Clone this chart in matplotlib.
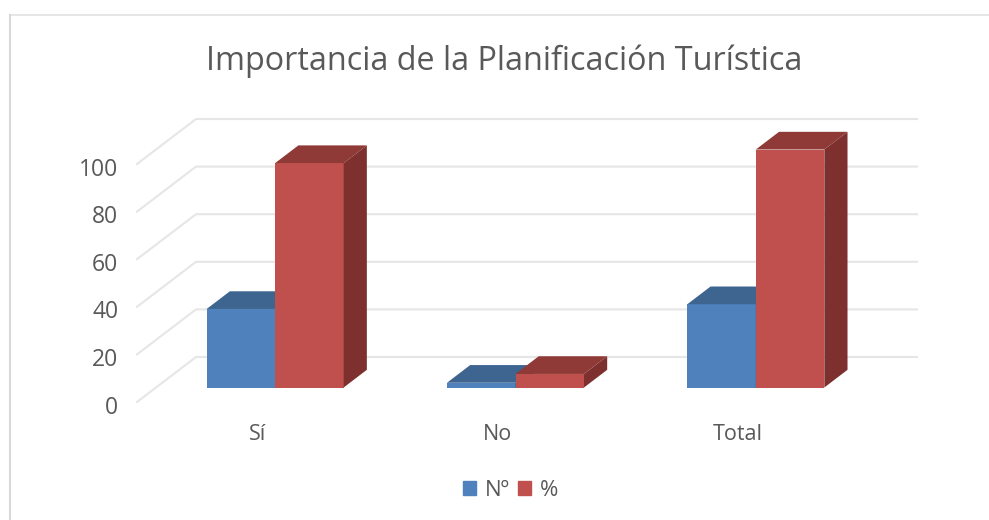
import matplotlib
matplotlib.use('Agg')
import matplotlib.pyplot as plt
from matplotlib.lines import Line2D
from matplotlib.patches import Patch
from matplotlib.transforms import ScaledTranslation

plt.rcParams['font.family'] = ['Open Sans', 'DejaVu Sans']

# data
categories = ['Sí', 'No', 'Total']
numero = [33, 2, 35]
porcentaje = [94.3, 5.7, 100]
y_ticks = [0, 20, 40, 60, 80, 100]

W, H = 989, 520
TEXT = '#595959'
GRID = '#E6E6E6'

# fake 3D: depth of the floor in data units, bars sit between f0 and f1
DEPTH_X = 59 / 240.3
DEPTH_Y = 45 / 2.38
F0, F1 = 0.322, 0.715
BAR_W = 0.285
NUDGE_X = -1 / 240.3

fig = plt.figure(figsize=(W / 100, H / 100), dpi=100)
ax = fig.add_axes([137 / W, 1 - 402 / H, 721 / W, 238 / H])
ax.set_xlim(-0.5, 2.5)
ax.set_ylim(0, 100)
for s in ax.spines.values():
    s.set_visible(False)

# walls
for v in y_ticks:
    ax.plot([-0.5, -0.5 + DEPTH_X, 2.5 + DEPTH_X],
            [v, v + DEPTH_Y, v + DEPTH_Y],
            color=GRID, lw=1.5, clip_on=False, zorder=1)


def bar3d(pos, val, front, top, side):
    x0 = pos + F0 * DEPTH_X + NUDGE_X
    y0 = F0 * DEPTH_Y
    ddx = (F1 - F0) * DEPTH_X
    ddy = (F1 - F0) * DEPTH_Y
    x1 = x0 + BAR_W
    y1 = y0 + val
    ax.bar(x0, val, BAR_W, bottom=y0, align='edge', color=front, clip_on=False, zorder=3)
    ax.fill([x0, x1, x1 + ddx, x0 + ddx], [y1, y1, y1 + ddy, y1 + ddy],
            color=top, lw=0, clip_on=False, zorder=3)
    ax.fill([x1, x1 + ddx, x1 + ddx, x1], [y0, y0 + ddy, y1 + ddy, y1],
            color=side, lw=0, clip_on=False, zorder=3)


for i in range(len(categories)):
    bar3d(i - BAR_W, numero[i], '#4F81BD', '#3E6490', '#34547A')
    bar3d(i, porcentaje[i], '#C0504D', '#8F3A37', '#7D302E')

ax.set_yticks(y_ticks)
ax.set_xticks(range(len(categories)))
ax.set_xticklabels(categories)
ax.tick_params(axis='y', length=0, pad=13.5, labelsize=16.5, labelcolor=TEXT)
ax.tick_params(axis='x', length=0, pad=15.5, labelsize=15.5, labelcolor=TEXT)

# tick text sits a little below the gridline ends
shift = ScaledTranslation(0, -2.5 / 100, fig.dpi_scale_trans)
for label in ax.get_yticklabels():
    label.set_transform(label.get_transform() + shift)

fig.suptitle('Importancia de la Planificación Turística', x=504.5 / W, y=1 - 61 / H,
             va='center', ha='center', fontsize=23.3, color=TEXT)

handles = [Patch(color='#4F81BD', label='Nº'), Patch(color='#C0504D', label='%')]
fig.legend(handles=handles, loc='center', bbox_to_anchor=(510.5 / W, 1 - 490 / H), ncol=2,
           frameon=False, fontsize=16, labelcolor=TEXT, handlelength=0.58, handleheight=0.58,
           handletextpad=0.4, columnspacing=0.35)

# screenshot frame
fig.add_artist(Line2D([9.5 / W, 1], [1 - 14.5 / H] * 2, color='#E2E2E2', lw=1.2))
fig.add_artist(Line2D([9.5 / W] * 2, [0, 1 - 14.5 / H], color='#D8D8D8', lw=1.5))

fig.savefig('out.png', dpi=100)
